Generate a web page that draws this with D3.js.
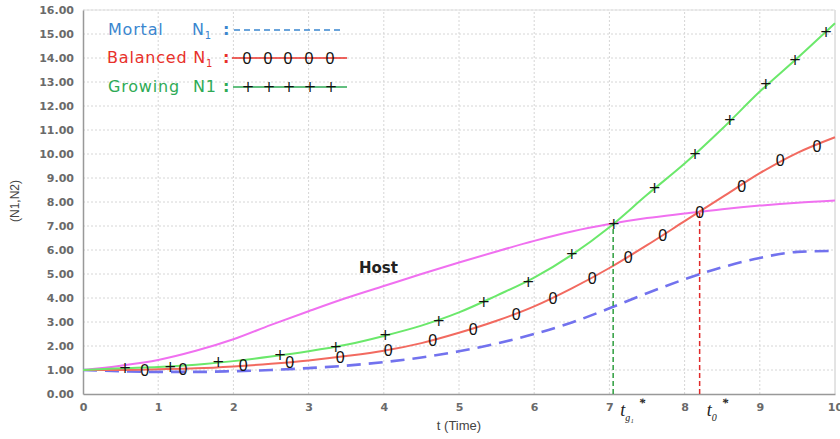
<!DOCTYPE html>
<html><head><meta charset="utf-8">
<script src="https://cdn.jsdelivr.net/npm/d3@7"></script>
<style>body{margin:0;background:#fff}svg{display:block}</style>
</head><body>
<svg id="c" width="840" height="439"></svg>
<script>
// ---- data ----
const tGrid   = [0,0.5,1,1.5,2,2.5,3,3.5,4,4.5,5,5.5,6,6.5,7,7.5,8,8.5,9,9.5,10];
const hostN2  = [1,1.18,1.42,1.8,2.28,2.88,3.45,4.0,4.5,5.0,5.48,5.94,6.38,6.77,7.08,7.33,7.52,7.7,7.85,7.97,8.06];
const mortalN1   = [1,0.95,0.92,0.92,0.95,1.0,1.08,1.18,1.33,1.52,1.78,2.1,2.5,2.98,3.57,4.2,4.78,5.28,5.67,5.92,5.96];
const balancedN1 = [1,1.0,1.03,1.07,1.15,1.26,1.4,1.58,1.8,2.12,2.55,3.05,3.65,4.4,5.25,6.2,7.2,8.2,9.2,10.05,10.7];
const growingN1  = [1,1.07,1.12,1.22,1.37,1.56,1.78,2.05,2.42,2.85,3.4,4.1,4.85,5.8,6.95,8.3,9.6,11.05,12.6,14.0,15.45];
const balancedMarkT = [0.82,1.33,2.13,2.75,3.42,4.06,4.65,5.19,5.76,6.25,6.77,7.25,7.71,8.2,8.76,9.27,9.76];
const balancedMarkV = [1.0,1.04,1.21,1.33,1.54,1.83,2.25,2.71,3.33,4.0,4.83,5.71,6.63,7.58,8.67,9.75,10.33];
const growingMarkT  = [0.56,1.16,1.8,2.62,3.36,4.02,4.73,5.33,5.92,6.5,7.06,7.6,8.14,8.6,9.08,9.47,9.88];
const growingMarkV  = [1.08,1.12,1.33,1.62,1.96,2.46,3.04,3.83,4.67,5.83,7.08,8.58,10.0,11.4,12.9,13.9,15.1];
const xTicks = [0,1,2,3,4,5,6,7,8,9,10];
const yTicks = [0,1,2,3,4,5,6,7,8,9,10,11,12,13,14,15,16];
const tG1 = 7.05, tG1Val = 7.1;   // growing/host crossing
const t0  = 8.2,  t0Val  = 7.58;  // balanced/host crossing

// ---- layout ----
const svg = d3.select("#c");
const m = {top:10, right:5, bottom:45, left:83};
const W = 840, H = 439;
const x = d3.scaleLinear().domain([0,10]).range([m.left, W - m.right]);
const y = d3.scaleLinear().domain([0,16]).range([H - m.bottom, m.top]);

// grid
const g = svg.append("g");
g.selectAll(".vg").data(xTicks.slice(1,-1)).join("line")
  .attr("x1", d=>x(d)).attr("x2", d=>x(d)).attr("y1", y(0)).attr("y2", y(16))
  .attr("stroke","#d6d6d6").attr("stroke-dasharray","2,2");
g.selectAll(".hg").data(yTicks.slice(1)).join("line")
  .attr("x1", x(0)).attr("x2", x(10)).attr("y1", d=>y(d)).attr("y2", d=>y(d))
  .attr("stroke","#d6d6d6").attr("stroke-dasharray","2,2");

// frame
svg.append("line").attr("x1",x(10)).attr("x2",x(10)).attr("y1",y(16)).attr("y2",y(0)).attr("stroke","#c8c8c8");
svg.append("line").attr("x1",x(0)).attr("x2",x(10)).attr("y1",y(16)).attr("y2",y(16)).attr("stroke","#e0e0e0");

// axes
const ax = svg.append("g").attr("transform",`translate(0,${y(0)})`)
  .call(d3.axisBottom(x).tickValues(xTicks).tickSize(0).tickPadding(9).tickFormat(d3.format("d")));
ax.select(".domain").attr("stroke","#999").attr("stroke-width",1.5);
ax.selectAll("text").attr("font-family","DejaVu Sans").attr("font-size",11).attr("font-weight","bold").attr("fill","#6a6a6a");
const ay = svg.append("g").attr("transform",`translate(${x(0)},0)`)
  .call(d3.axisLeft(y).tickValues(yTicks).tickSize(0).tickPadding(9).tickFormat(d3.format(".2f")));
ay.select(".domain").attr("stroke","#999").attr("stroke-width",1.5);
ay.selectAll("text").attr("font-family","DejaVu Sans").attr("font-size",11).attr("font-weight","bold").attr("fill","#6a6a6a");

svg.append("text").attr("x", x(5)).attr("y", 430).attr("text-anchor","middle")
  .attr("font-family","Liberation Sans").attr("font-size",13).attr("fill","#444").text("t (Time)");
svg.append("text").attr("transform","translate(19,201) rotate(-90)").attr("text-anchor","middle")
  .attr("font-family","Liberation Sans").attr("font-size",12).attr("fill","#444").text("(N1,N2)");

// curves
const line = d3.line().x((d,i)=>x(tGrid[i])).y(d=>y(d)).curve(d3.curveMonotoneX);
svg.append("path").attr("d", line(hostN2)).attr("fill","none").attr("stroke","#f070f0").attr("stroke-width",2);
svg.append("path").attr("d", line(mortalN1)).attr("fill","none").attr("stroke","#7272ee").attr("stroke-width",2.6).attr("stroke-dasharray","14,8");
svg.append("path").attr("d", line(balancedN1)).attr("fill","none").attr("stroke","#f26a60").attr("stroke-width",2);
svg.append("path").attr("d", line(growingN1)).attr("fill","none").attr("stroke","#6be86b").attr("stroke-width",2);

// vertical markers
svg.append("line").attr("x1",x(tG1)).attr("x2",x(tG1)).attr("y1",y(0)).attr("y2",y(tG1Val))
  .attr("stroke","#2e9e3e").attr("stroke-width",1.5).attr("stroke-dasharray","5,3");
svg.append("line").attr("x1",x(t0)).attr("x2",x(t0)).attr("y1",y(0)).attr("y2",y(t0Val))
  .attr("stroke","#e02a2a").attr("stroke-width",1.5).attr("stroke-dasharray","5,3");

// point markers
svg.selectAll(".bm").data(balancedMarkT).join("text")
  .attr("x",(d)=>x(d)).attr("y",(d,i)=>y(balancedMarkV[i])+6)
  .attr("text-anchor","middle").attr("font-family","Liberation Sans").attr("font-size",16).attr("fill","#111").text("0");
svg.selectAll(".gm").data(growingMarkT).join("text")
  .attr("x",(d)=>x(d)).attr("y",(d,i)=>y(growingMarkV[i])+5)
  .attr("text-anchor","middle").attr("font-family","DejaVu Sans").attr("font-size",15).attr("fill","#111").text("+");

// Host label
svg.append("text").attr("x",359).attr("y",273).attr("font-family","DejaVu Sans").attr("font-weight","bold")
  .attr("font-size",15).attr("fill","#222").text("Host");

// t labels under axis
function tLabel(tx, sub){
  const t = svg.append("text").attr("x", x(tx)+7).attr("y",416).attr("font-family","Liberation Serif")
    .attr("font-style","italic").attr("font-size",18).attr("fill","#222");
  t.append("tspan").text("t");
  t.append("tspan").attr("font-size",10).attr("dy",5).text(sub);
  t.append("tspan").attr("font-size",13).attr("dy",-14).attr("dx",5).attr("font-weight","bold").text("*");
}
tLabel(tG1, "g\u2081");
tLabel(t0, "0");

// legend
const lf = "DejaVu Sans", lfs = 16, ls = 0.8;
const tm = svg.append("text").attr("x",108).attr("y",35).attr("font-family",lf).attr("font-size",lfs).attr("letter-spacing",ls).attr("fill","#3a86cf");
tm.append("tspan").text("Mortal");
tm.append("tspan").attr("x",192).text("N");
tm.append("tspan").attr("font-size",10).attr("dy",4).text("1");
tm.append("tspan").attr("x",223).attr("dy",-4).attr("font-weight","bold").text(":");
svg.append("line").attr("x1",234).attr("x2",343).attr("y1",30).attr("y2",30)
  .attr("stroke","#3a86cf").attr("stroke-width",1.6).attr("stroke-dasharray","6,4");

const tb = svg.append("text").attr("x",107).attr("y",63).attr("font-family",lf).attr("font-size",lfs).attr("letter-spacing",ls).attr("fill","#e8302a");
tb.append("tspan").text("Balanced N");
tb.append("tspan").attr("font-size",10).attr("dy",4).text("1");
tb.append("tspan").attr("x",223).attr("dy",-4).attr("font-weight","bold").text(":");
svg.append("line").attr("x1",232).attr("x2",347).attr("y1",58).attr("y2",58).attr("stroke","#e8302a").attr("stroke-width",1.4);
const legMarkX = [247,268,288,309,330];
svg.selectAll(".lb").data(legMarkX).join("text").attr("x",d=>d).attr("y",64).attr("text-anchor","middle")
  .attr("font-family","Liberation Sans").attr("font-size",16).attr("fill","#111").text("0");

const tg = svg.append("text").attr("x",108).attr("y",92).attr("font-family",lf).attr("font-size",lfs).attr("letter-spacing",ls).attr("fill","#2eaa55");
tg.append("tspan").text("Growing");
tg.append("tspan").attr("x",193).text("N1");
tg.append("tspan").attr("x",223).attr("font-weight","bold").text(":");
svg.append("line").attr("x1",233).attr("x2",347).attr("y1",87).attr("y2",87).attr("stroke","#2eaa55").attr("stroke-width",1.4);
svg.selectAll(".lg").data(legMarkX).join("text").attr("x",d=>d+1).attr("y",92).attr("text-anchor","middle")
  .attr("font-family","DejaVu Sans").attr("font-size",15).attr("fill","#111").text("+");
</script>
</body></html>
